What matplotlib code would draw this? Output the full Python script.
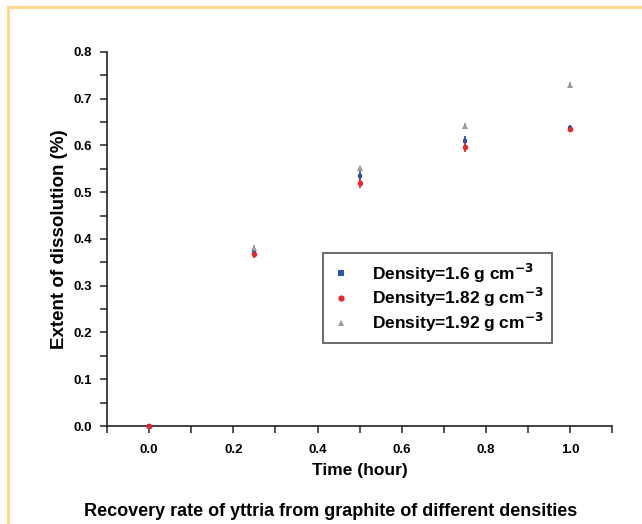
import numpy as np
import matplotlib.pyplot as plt
from matplotlib.lines import Line2D
from matplotlib.ticker import MultipleLocator

plt.rcParams['font.family'] = ['Liberation Sans', 'DejaVu Sans']
plt.rcParams['font.weight'] = 'bold'

# data
time_h = [0.0, 0.25, 0.5, 0.75, 1.0]
d160 = [0.0, 0.370, 0.535, 0.610, 0.638]
d160_err = [0.0, 0.008, 0.010, 0.010, 0.006]
d182 = [0.0, 0.367, 0.520, 0.596, 0.635]
d182_err = [0.0, 0.008, 0.010, 0.011, 0.006]
d192 = [0.0, 0.380, 0.551, 0.641, 0.729]
d192_err = [0.0, 0.006, 0.006, 0.006, 0.006]

labels = ['Density=1.6 g cm$^{\\mathbf{-3}}$',
          'Density=1.82 g cm$^{\\mathbf{-3}}$',
          'Density=1.92 g cm$^{\\mathbf{-3}}$']
colors = ['#2c55aa', '#e8262c', '#9a9a9a']
markers = ['s', 'o', '^']
msizes = [3.5, 4, 4.5]

fig = plt.figure(figsize=(6.42, 5.24), dpi=100)
ax = fig.add_axes([0.1667, 0.187, 0.787, 0.714])

series = [(d192, d192_err), (d160, d160_err), (d182, d182_err)]
order = [2, 0, 1]
for (vals, errs), i in zip(series, order):
    ax.errorbar(time_h, vals, yerr=errs, fmt=markers[i], color=colors[i],
                ms=msizes[i], mew=0, elinewidth=1.3, capsize=4.5, capthick=1.8,
                clip_on=False, zorder=3)

ax.set_xlim(-0.1, 1.1)
ax.set_ylim(0, 0.8)
ax.xaxis.set_major_locator(MultipleLocator(0.2))
ax.xaxis.set_minor_locator(MultipleLocator(0.1))
ax.yaxis.set_major_locator(MultipleLocator(0.1))
ax.yaxis.set_minor_locator(MultipleLocator(0.05))
ax.xaxis.set_major_formatter(plt.FuncFormatter(lambda v, p: '%.1f' % v))
ax.yaxis.set_major_formatter(plt.FuncFormatter(lambda v, p: '%.1f' % v))
ax.spines['top'].set_visible(False)
ax.spines['right'].set_visible(False)
for s in ['left', 'bottom']:
    ax.spines[s].set_linewidth(1.2)
    ax.spines[s].set_color('#222222')
ax.tick_params(which='both', direction='out', length=5, width=1.1,
               color='#222222', labelsize=9.5, pad=6)
ax.tick_params(axis='x', pad=8)
for lab in ax.get_xticklabels() + ax.get_yticklabels():
    lab.set_fontweight('bold')

ax.set_xlabel('Time (hour)', fontsize=12.5, fontweight='bold', labelpad=5)
ax.set_ylabel('Extent of dissolution (%)', fontsize=13.5, fontweight='bold', labelpad=4)

handles = [Line2D([], [], ls='none', marker=markers[i], color=colors[i],
                  ms=msizes[i] + 0.5, mew=0) for i in range(3)]
leg = ax.legend(handles, labels, loc='upper left', bbox_to_anchor=(0.428, 0.463),
                borderaxespad=0, frameon=True, fancybox=False, edgecolor='#444444',
                prop={'size': 12.5, 'weight': 'bold'}, handlelength=1.0,
                handletextpad=1.3, borderpad=0.5, labelspacing=0.1)
leg.get_frame().set_linewidth(1.4)

fig.text(0.515, 0.008, 'Recovery rate of yttria from graphite of different densities',
         ha='center', va='bottom', fontsize=13, fontweight='bold')

# cropped frame of the original picture: top and left edges only
border = '#fdd98b'
fig.add_artist(Line2D([0.012, 1.0], [0.986, 0.986], color=border, lw=2.2,
                      transform=fig.transFigure))
fig.add_artist(Line2D([0.012, 0.012], [0.0, 0.986], color=border, lw=2.2,
                      transform=fig.transFigure))

fig.savefig('out.png', dpi=100)
